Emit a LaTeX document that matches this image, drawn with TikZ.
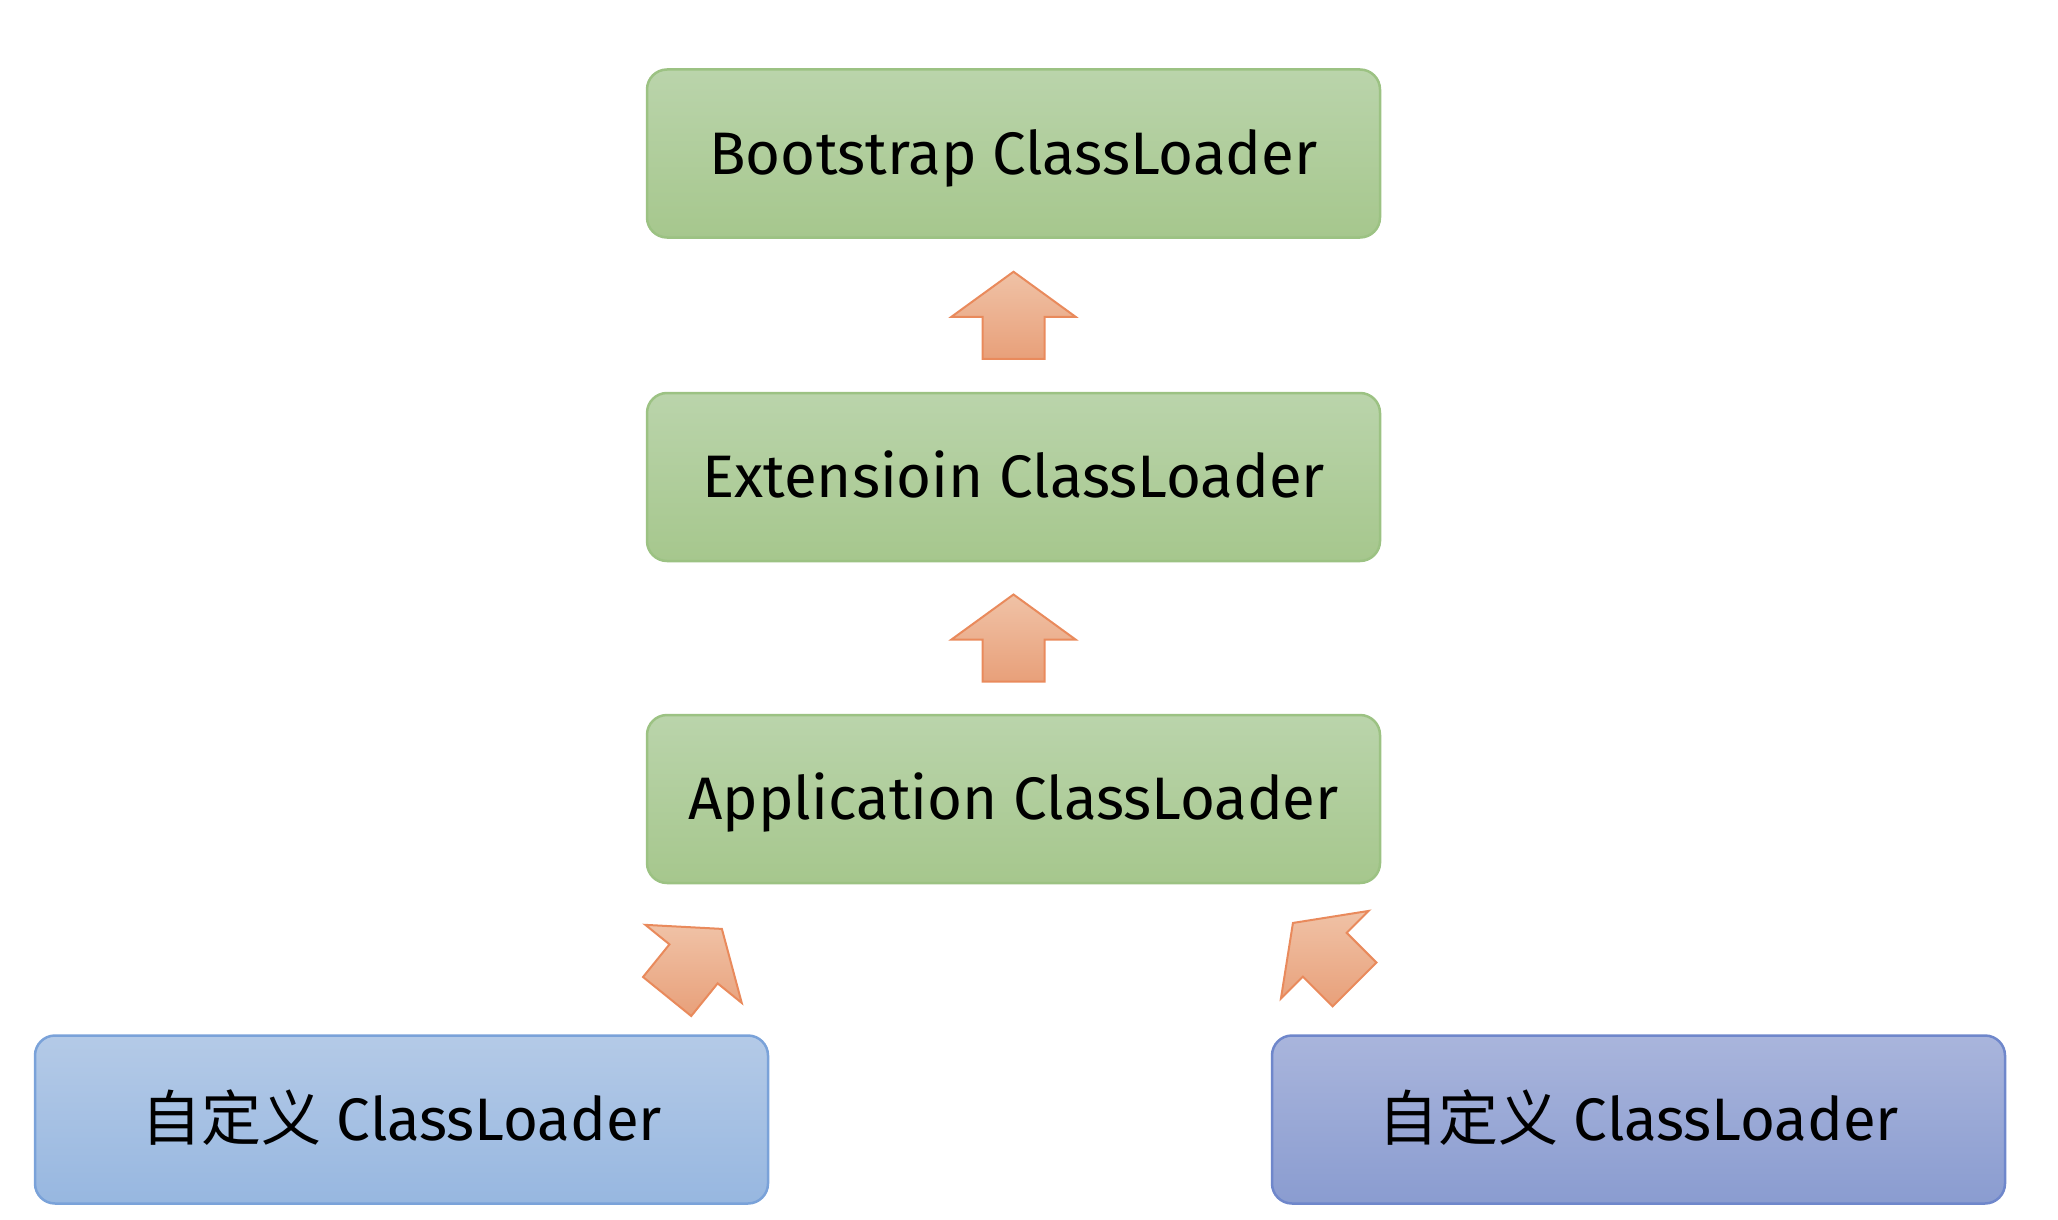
\documentclass[tikz,border=0pt]{standalone}
\usepackage{fontspec}
\setmainfont{Fira Sans}
\newfontfamily\cjk{Noto Sans CJK SC}
\usetikzlibrary{calc}
\definecolor{gtop}{HTML}{BAD4AB}
\definecolor{gbot}{HTML}{A6C78D}
\definecolor{gline}{HTML}{9CC283}
\definecolor{btop}{HTML}{B4CAE7}
\definecolor{bbot}{HTML}{97B7E0}
\definecolor{bline}{HTML}{7AA2D9}
\definecolor{ptop}{HTML}{A9B5DC}
\definecolor{pbot}{HTML}{8A9CD0}
\definecolor{pline}{HTML}{6F87CB}
\definecolor{atop}{HTML}{F0C2A6}
\definecolor{abot}{HTML}{E8A07A}
\definecolor{aline}{HTML}{E98A5C}
\tikzset{
  loader/.style={rounded corners=20pt, minimum width=733pt, minimum height=168pt,
    line width=2.5pt, inner sep=0pt, font=\fontsize{60}{70}\selectfont,
    text height=41pt, text depth=0pt, shading=axis},
  greenbox/.style={loader, draw=gline, top color=gtop, bottom color=gbot},
  bluebox/.style={loader, draw=bline, top color=btop, bottom color=bbot},
  purplebox/.style={loader, draw=pline, top color=ptop, bottom color=pbot},
  arrowfill/.style={draw=aline, line width=2pt, line join=miter, top color=atop, bottom color=abot},
  blockarrow/.pic={\path[arrowfill] (0,-43.5) -- (62,1.5) -- (31,1.5) -- (31,43.5)
      -- (-31,43.5) -- (-31,1.5) -- (-62,1.5) -- cycle;}
}
\begin{document}
\begin{tikzpicture}[x=1pt,y=-1pt]
\useasboundingbox (0,0) rectangle (2058,1220);
\node[greenbox] (boot) at (1013.5,153.5) {Bootstrap ClassLoader};
\node[greenbox] (ext) at (1013.5,477) {Extensioin ClassLoader};
\node[greenbox] (app) at (1013.5,799) {Application ClassLoader};
\node[bluebox] (left) at (401.5,1119.5) {{\cjk 自定义} ClassLoader};
\node[purplebox] (right) at (1638.5,1119.5) {{\cjk 自定义} ClassLoader};
\pic at ($(boot.south)!0.5!(ext.north)$) {blockarrow};
\pic at ($(ext.south)!0.5!(app.north)$) {blockarrow};
\pic[rotate=-39] at (694.5,962.7) {blockarrow};
\pic[rotate=45] at (1323.7,953.7) {blockarrow};
\end{tikzpicture}
\end{document}
